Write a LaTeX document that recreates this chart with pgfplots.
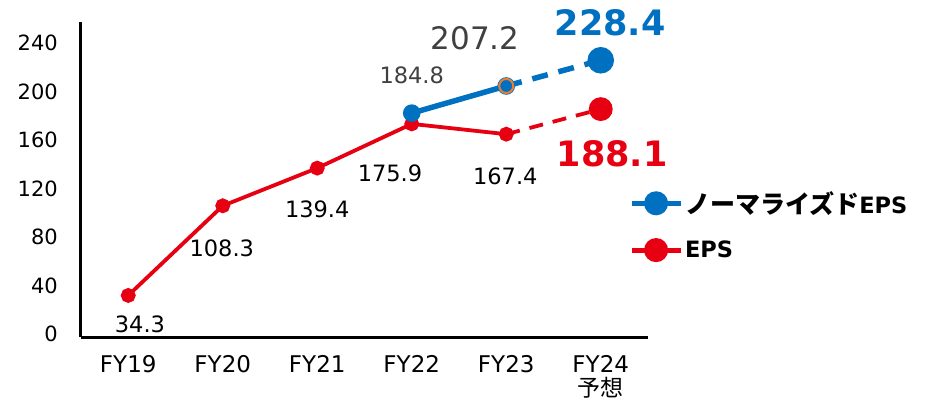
\documentclass[border=0pt]{standalone}
\usepackage{pgfplots}
\pgfplotsset{compat=1.18}
\usepackage{fontspec}
\setmainfont{DejaVu Sans}
\newfontfamily\jp{Noto Sans CJK JP}
\definecolor{nblue}{HTML}{0070C0}
\definecolor{ered}{HTML}{E60012}
\definecolor{dgray}{HTML}{404040}
\definecolor{orng}{HTML}{ED7D31}
\begin{document}
\begin{tikzpicture}
\begin{axis}[
  scale only axis, width=567pt, height=315pt,
  xmin=-0.5, xmax=5.5, ymin=0, ymax=260,
  axis x line=bottom, axis y line=left,
  axis line style={line width=3pt, -},
  clip=false,
  xtick={0,1,2,3,4,5},
  xticklabels={FY19,FY20,FY21,FY22,FY23,{FY24\\[-3pt]{\jp 予想}}},
  ytick={0,40,80,120,160,200,240},
  major tick length=0pt,
  /pgf/number format/assume math mode=true,
  xticklabel style={font=\fontsize{23}{27}\selectfont, text=black, align=center, anchor=north, inner sep=0pt, yshift=-18pt},
  yticklabel style={font=\fontsize{21}{24}\selectfont, text=black, anchor=east, inner sep=0pt, xshift=-23pt, yshift=3pt},
  legend style={at={(0.961,0.475)}, anchor=north west, draw=none, fill=none,
    font=\bfseries\fontsize{22.5}{25}\selectfont, row sep=22pt,
    /tikz/every even column/.append style={column sep=6pt}},
  legend cell align=left,
  legend image code/.code={\draw[mark repeat=2,mark phase=2,#1] plot coordinates {(0pt,0pt) (24.5pt,0pt) (49pt,0pt)};},
]
\addlegendimage{nblue, line width=5pt, mark=*, mark size=9.5pt}
\addlegendentry{{\jp\bfseries\fontsize{25}{25}\selectfont ノーマライズド}EPS}
\addlegendimage{ered, line width=5pt, mark=*, mark size=9.5pt}
\addlegendentry{EPS}

% EPS
\addplot[forget plot, ered, line width=3.8pt, mark=*, mark size=5.5pt] coordinates {(0,34.3) (1,108.3) (2,139.4) (3,175.9) (4,167.4)};
\addplot[forget plot, ered, line width=3.8pt, dash pattern=on 14pt off 10pt, mark=*, mark size=10pt, mark options={solid}, mark indices={2}] coordinates {(4,167.4) (5,188.1)};
% Normalized EPS
\addplot[forget plot, nblue, line width=5.5pt, mark=*, mark size=6pt] coordinates {(3,184.8) (4,207.2)};
\addplot[forget plot, nblue, line width=5.5pt, dash pattern=on 16pt off 11pt, mark=*, mark size=10.5pt, mark options={solid}, mark indices={2}] coordinates {(4,207.2) (5,228.4)};
\addplot[forget plot, only marks, mark=*, mark size=7pt, mark options={fill=nblue, draw=orng, line width=2pt}] coordinates {(4,207.2)};

% data labels
\node[font=\fontsize{22.5}{24}\selectfont, text=black] at (axis cs:0.124,10.7) {34.3};
\node[font=\fontsize{22.5}{24}\selectfont, text=black] at (axis cs:0.99,73.5) {108.3};
\node[font=\fontsize{22.5}{24}\selectfont, text=black] at (axis cs:2.0,105.8) {139.4};
\node[font=\fontsize{22.5}{24}\selectfont, text=black] at (axis cs:2.77,135.5) {175.9};
\node[font=\fontsize{22.5}{24}\selectfont, text=black] at (axis cs:3.99,133) {167.4};
\node[font=\fontsize{22.5}{24}\selectfont, text=dgray] at (axis cs:3.0,215.7) {184.8};
\node[font=\fontsize{31}{34}\selectfont, text=dgray] at (axis cs:3.67,247) {207.2};
\node[font=\bfseries\fontsize{35}{38}\selectfont, text=nblue] at (axis cs:5.1,259.5) {228.4};
\node[font=\bfseries\fontsize{35}{38}\selectfont, text=ered] at (axis cs:5.12,151) {188.1};
\end{axis}
\pgfresetboundingbox
\path[use as bounding box] (-81pt,-64pt) rectangle (852pt,337pt);
\end{tikzpicture}
\end{document}
